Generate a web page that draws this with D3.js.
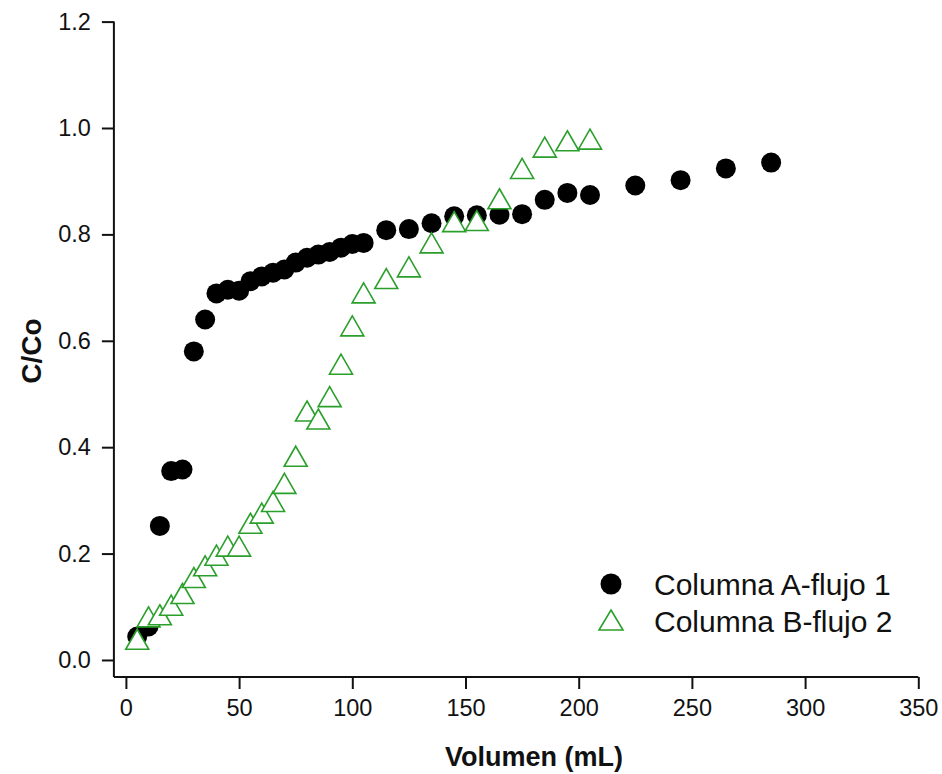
<!DOCTYPE html>
<html>
<head>
<meta charset="utf-8">
<script src="https://cdn.jsdelivr.net/npm/d3@7"></script>
<style>
  body { margin: 0; background: #fff; }
  svg { display: block; font-family: Arial, "Liberation Sans", sans-serif; }
</style>
</head>
<body>
<svg width="942" height="774"></svg>
<script>
// Columna A-flujo 1
const volA = [5, 10, 15, 20, 25, 30, 35, 40, 45, 50, 55, 60, 65, 70, 75, 80, 85, 90, 95, 100, 105,
              115, 125, 135, 145, 155, 165, 175, 185, 195, 205, 225, 245, 265, 285];
const ccoA = [0.044, 0.063, 0.252, 0.355, 0.358, 0.580, 0.640, 0.689, 0.696, 0.694, 0.712, 0.721, 0.728, 0.734, 0.747, 0.756, 0.762, 0.767, 0.775, 0.782, 0.784,
              0.808, 0.810, 0.821, 0.834, 0.836, 0.837, 0.838, 0.865, 0.878, 0.874, 0.892, 0.902, 0.924, 0.935];

// Columna B-flujo 2
const volB = [5, 10, 15, 20, 25, 30, 35, 40, 45, 50, 55, 60, 65, 70, 75, 80, 85, 90, 95, 100, 105,
              115, 125, 135, 145, 155, 165, 175, 185, 195, 205];
const ccoB = [0.039, 0.081, 0.085, 0.103, 0.125, 0.155, 0.177, 0.197, 0.214, 0.214, 0.257, 0.276, 0.298, 0.332, 0.383, 0.468, 0.453, 0.495, 0.556, 0.628, 0.690,
              0.717, 0.739, 0.784, 0.824, 0.826, 0.867, 0.924, 0.964, 0.976, 0.979];

const xTicks = [0, 50, 100, 150, 200, 250, 300, 350];
const yTicks = [0.0, 0.2, 0.4, 0.6, 0.8, 1.0, 1.2];
const legendLabels = ["Columna A-flujo 1", "Columna B-flujo 2"];

const green = "#2b9f2b";
const svg = d3.select("svg");

const x = d3.scaleLinear().domain([-5.3, 350]).range([113.9, 918.3]);
const y = d3.scaleLinear().domain([-0.032, 1.2]).range([677, 21.6]);

// triangle, centred on its bounding box
const tri = (w, h) => `M0,${-h / 2}L${w / 2},${h / 2}L${-w / 2},${h / 2}Z`;

// x axis
const xAxis = svg.append("g").attr("transform", "translate(0,677)");
xAxis.call(d3.axisBottom(x).tickValues(d3.range(25, 350, 50)).tickSize(6).tickFormat(""));
xAxis.call(d3.axisBottom(x).tickValues(xTicks).tickSize(12).tickPadding(10).tickFormat(d3.format("d")));
xAxis.selectAll("path.domain").remove();
xAxis.append("line").attr("x1", x(-5.3)).attr("x2", x(350)).attr("stroke", "#111").attr("stroke-width", 2);

// y axis
const yAxis = svg.append("g").attr("transform", "translate(113.9,0)");
yAxis.call(d3.axisLeft(y).tickValues(d3.range(0.1, 1.2, 0.2)).tickSize(6).tickFormat(""));
yAxis.call(d3.axisLeft(y).tickValues(yTicks).tickSize(12).tickPadding(11).tickFormat(d3.format(".1f")));
yAxis.selectAll("path.domain").remove();
yAxis.append("line").attr("y1", y(-0.032)).attr("y2", y(1.2)).attr("stroke", "#111").attr("stroke-width", 2);

svg.selectAll(".tick line").attr("stroke", "#111").attr("stroke-width", 2);
svg.selectAll(".tick text").attr("font-size", 23.5).attr("fill", "#111")
  .attr("font-family", "Arial, 'Liberation Sans', sans-serif");

// axis titles
svg.append("text").attr("x", 534).attr("y", 766).attr("text-anchor", "middle")
  .attr("font-size", 27).attr("font-weight", "bold").attr("fill", "#111").text("Volumen (mL)");
svg.append("text").attr("transform", "translate(41,351) rotate(-90)").attr("text-anchor", "middle")
  .attr("font-size", 28).attr("font-weight", "bold").attr("fill", "#111").text("C/Co");

// series A: filled circles
svg.append("g").selectAll("circle").data(volA).join("circle")
  .attr("cx", d => x(d)).attr("cy", (d, i) => y(ccoA[i])).attr("r", 10).attr("fill", "#000");

// series B: open triangles
svg.append("g").selectAll("path").data(volB).join("path")
  .attr("transform", (d, i) => `translate(${x(d)},${y(ccoB[i])})`)
  .attr("d", tri(23, 20)).attr("fill", "#fff").attr("stroke", green).attr("stroke-width", 1.6);

// legend
const legend = svg.append("g");
legend.append("circle").attr("cx", 611).attr("cy", 584).attr("r", 10.5).attr("fill", "#000");
legend.append("path").attr("transform", "translate(611,620)").attr("d", tri(24, 20))
  .attr("fill", "#fff").attr("stroke", green).attr("stroke-width", 1.6);
legend.selectAll("text").data(legendLabels).join("text")
  .attr("x", 654).attr("y", (d, i) => 595 + i * 36.5)
  .attr("font-size", 30).attr("fill", "#111").text(d => d);
</script>
</body>
</html>
